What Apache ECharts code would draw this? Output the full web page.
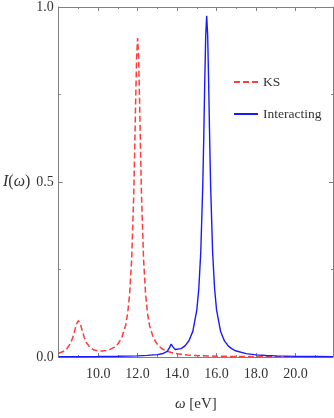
<!DOCTYPE html>
<html><head><meta charset="utf-8">
<script src="https://cdn.jsdelivr.net/npm/echarts@6/dist/echarts.min.js"></script>
<style>html,body{margin:0;padding:0;background:#fff}#c{width:334px;height:418px}</style>
</head><body><div id="c"></div>
<script>
// KS (red dashed)
const ksOmega = [8.0,8.2,8.4,8.6,8.7,8.8,8.9,9.0,9.1,9.2,9.3,9.4,9.6,9.8,10.0,10.2,10.4,10.6,10.8,11.0,11.2,11.4,11.5,11.6,11.7,11.8,11.85,11.9,11.95,12.0,12.05,12.1,12.15,12.2,12.3,12.4,12.5,12.6,12.8,13.0,13.2,13.4,13.7,14.0,14.5,15,16,17,18,19,20,21,21.9];
const ksI = [0.0105,0.0148,0.0228,0.0391,0.0533,0.0728,0.0938,0.104,0.0943,0.0738,0.055,0.0414,0.0263,0.0198,0.0173,0.017,0.0184,0.0216,0.0273,0.0372,0.0553,0.0925,0.127,0.183,0.281,0.456,0.583,0.729,0.857,0.911,0.857,0.729,0.583,0.456,0.281,0.182,0.126,0.091,0.054,0.036,0.025,0.0187,0.0128,0.0093,0.006,0.004,0.0023,0.0015,0.001,0.00074,0.00057,0.00045,0.00037];
// Interacting (blue solid)
const intOmega = [8.0,9,10,11,12,12.5,13.0,13.3,13.5,13.6,13.7,13.8,13.9,14.0,14.2,14.4,14.6,14.8,15.0,15.1,15.2,15.3,15.35,15.4,15.45,15.5,15.55,15.6,15.65,15.7,15.8,15.9,16.0,16.2,16.4,16.6,16.8,17.0,17.5,18,18.5,19,20,21,21.9];
const intI = [0.0007,0.0009,0.0013,0.002,0.0033,0.0046,0.0069,0.0101,0.0163,0.0255,0.0369,0.0281,0.0216,0.0204,0.0239,0.0319,0.0463,0.0739,0.1347,0.195,0.3,0.4875,0.624,0.78,0.918,0.975,0.918,0.78,0.624,0.4875,0.3,0.195,0.1345,0.0736,0.0459,0.0312,0.0225,0.017,0.0097,0.0062,0.0043,0.0032,0.0019,0.0013,0.00095];
const seriesNames = ['KS','Interacting'];
const xTickValues = [10,12,14,16,18,20];
const yTickValues = [0,0.5,1];

const font = 'Liberation Serif';
const axisCol = '#808080';
const zip = (a,b)=>a.map((v,i)=>[v,b[i]]);

function xAx(pos, showLabel){
  return {type:'value', position:pos, min:8, max:21.9, interval:2,
    axisLine:{show:true,onZero:false,lineStyle:{color:axisCol,width:1}},
    axisTick:{show:true,inside:true,length:4,lineStyle:{color:axisCol}},
    minorTick:{show:true,splitNumber:2,length:2,lineStyle:{color:axisCol}},
    splitLine:{show:false},
    axisLabel:{show:showLabel,showMinLabel:false,showMaxLabel:false,fontFamily:font,fontSize:14,color:'#333',margin:10,
      formatter:v=> xTickValues.includes(v)? v.toFixed(1):''},
    name: showLabel? '{w|ω} [eV]':'', nameLocation:'middle', nameGap:40,
    nameTextStyle:{fontFamily:font,fontSize:15,color:'#333',rich:{w:{fontFamily:font,fontStyle:'italic',fontSize:15,color:'#333'}}}
  };
}
function yAx(pos, showLabel){
  return {type:'value', position:pos, min:0, max:1, interval:0.5,
    axisLine:{show:true,onZero:false,lineStyle:{color:axisCol,width:1}},
    axisTick:{show:true,inside:true,length:4,lineStyle:{color:axisCol}},
    minorTick:{show:true,splitNumber:2,length:2,lineStyle:{color:axisCol}},
    splitLine:{show:false},
    axisLabel:{show:showLabel,fontFamily:font,fontSize:14,color:'#333',margin:5,
      formatter:v=> yTickValues.includes(v)? v.toFixed(1):''},
    name: showLabel? '{i|I}({i|ω})':'', nameLocation:'middle', nameRotate:0, nameGap:20,
    nameTextStyle:{fontFamily:font,fontSize:16,color:'#333',align:'right',rich:{i:{fontFamily:font,fontStyle:'italic',fontSize:16,color:'#333'}}}
  };
}

const chart = echarts.init(document.getElementById('c'), null, {renderer:'canvas'});
chart.setOption({
  animation:false,
  backgroundColor:'#fff',
  grid:{left:58,right:1,top:6,bottom:61,containLabel:false},
  legend:{data:seriesNames,orient:'vertical',left:228,top:70,itemWidth:24,itemHeight:14,itemGap:18,
    itemStyle:{opacity:0},
    textStyle:{fontFamily:font,fontSize:13.5,color:'#333',padding:[0,0,0,0]}},
  xAxis:[xAx('bottom',true), xAx('top',false)],
  yAxis:[yAx('left',true), yAx('right',false)],
  series:[
    {name:seriesNames[0],type:'line',data:zip(ksOmega,ksI),symbol:'none',smooth:false,
      lineStyle:{color:'#ff3b3b',width:1.5,type:[6,3]},itemStyle:{color:'#ff3b3b'}},
    {name:seriesNames[1],type:'line',data:zip(intOmega,intI),symbol:'none',smooth:false,
      lineStyle:{color:'#1a1aff',width:1.4},itemStyle:{color:'#1a1aff'}}
  ]
});
</script></body></html>
